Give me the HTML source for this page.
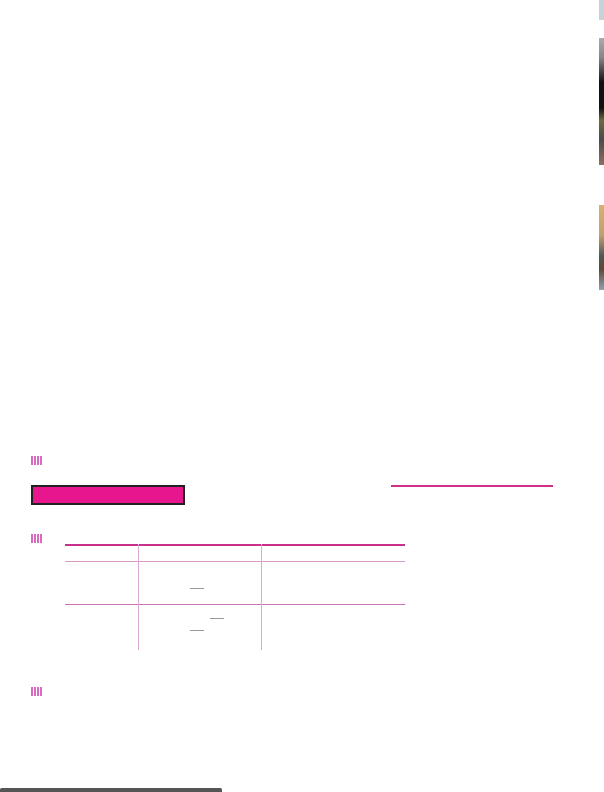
<!DOCTYPE html>
<html><head><meta charset="utf-8"><style>
body{margin:0;width:604px;height:792px;background:#fff;position:relative;overflow:hidden;font-family:"Liberation Sans",sans-serif}
div{position:absolute}
.ic{width:11px;height:9px;background:repeating-linear-gradient(90deg,#d86ac0 0 2px,transparent 2px 3px)}
</style></head><body>
<div class="ic" style="left:31px;top:456px"></div>
<div style="left:31px;top:485px;width:150px;height:16px;background:#e8168e;border:2px solid #222"></div>
<div style="left:391px;top:485px;width:162px;height:2px;background:#d0308a"></div>
<div class="ic" style="left:31px;top:534px"></div>
<div style="left:65px;top:544px;width:340px;height:106px">
<div style="left:0;top:0;width:340px;height:2px;background:#c8308a"></div>
<div style="left:0;top:17px;width:340px;height:1px;background:#d89ac8"></div>
<div style="left:0;top:60px;width:340px;height:1px;background:#cc70b8"></div>
<div style="left:73px;top:0;width:1px;height:106px;background:#dca8d4"></div>
<div style="left:196px;top:0;width:1px;height:106px;background:#dca8d4"></div>
<div style="left:125px;top:44px;width:14px;height:1px;background:#999"></div>
<div style="left:145px;top:74px;width:14px;height:1px;background:#999"></div>
<div style="left:125px;top:86px;width:14px;height:1px;background:#999"></div>
</div>
<div class="ic" style="left:31px;top:687px"></div>
<div style="left:599px;top:38px;width:5px;height:127px;background:linear-gradient(#aaa,#888 15%,#111 35%,#111 55%,#6a6a40 65%,#4a4a4a 80%,#8a7060)"></div>
<div style="left:599px;top:205px;width:5px;height:85px;background:linear-gradient(#d8b070,#c0a070 35%,#505858 60%,#5a4838 75%,#90a0b0)"></div>
<div style="left:599px;top:0;width:5px;height:20px;background:#c8d0d8"></div>
<div style="left:0;top:788px;width:222px;height:4px;background:#555;border-radius:2px 2px 0 0"></div>
</body></html>
